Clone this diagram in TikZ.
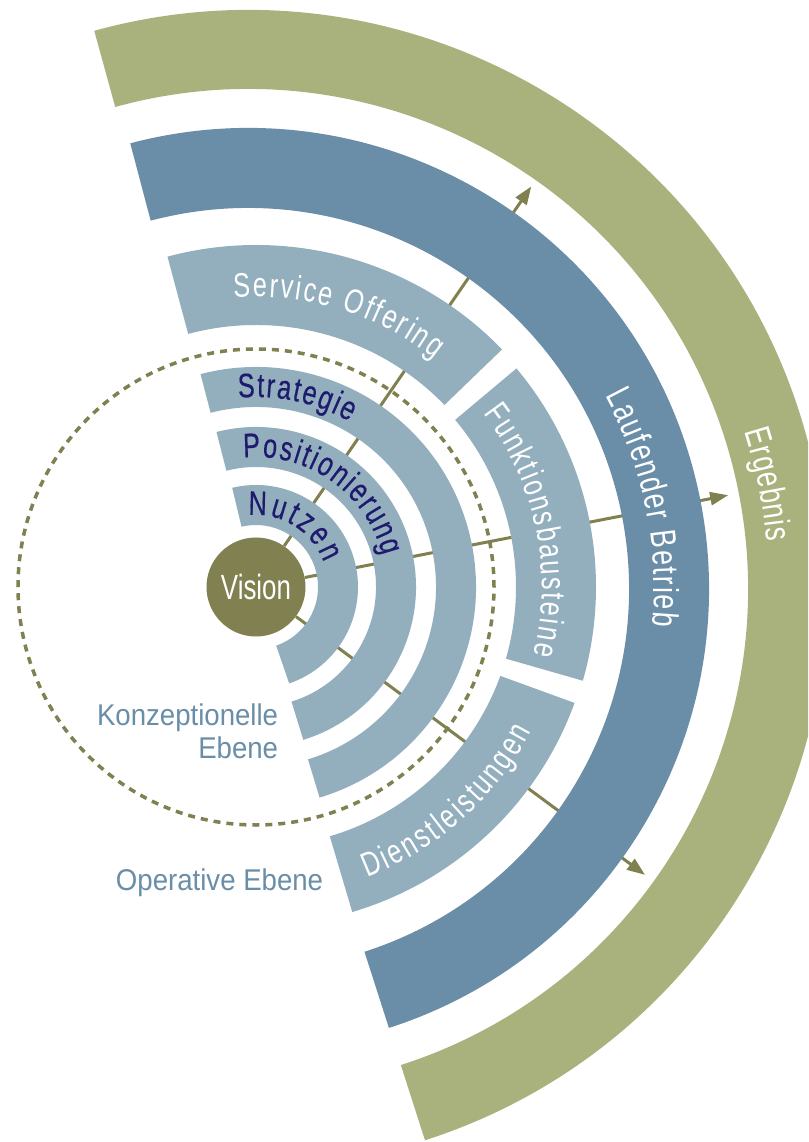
\documentclass[tikz,border=0pt]{standalone}
\usepackage{fontspec}
\setmainfont{Liberation Sans}[FakeStretch=0.92]
\newfontfamily\condfont{Liberation Sans}[FakeStretch=0.74]
\newfontfamily\condbold{Liberation Sans}[FakeStretch=0.74,FakeBold=0.4]
\usetikzlibrary{decorations.text,arrows.meta}
\definecolor{cOlive}{RGB}{128,128,80}
\definecolor{cGreen}{RGB}{169,178,124}
\definecolor{cDark}{RGB}{106,142,168}
\definecolor{cLight}{RGB}{147,175,190}
\definecolor{cNavy}{RGB}{30,26,110}
\newcommand{\annsec}[6]{\fill[#6,shift={#1}] (#2:#4) arc[start angle=#2,end angle=#3,radius=#4] -- (#3:#5) arc[start angle=#3,end angle=#2,radius=#5] -- cycle;}
\newcommand{\navyfont}{\condbold\fontsize{34}{34}\selectfont}
\newcommand{\whitefont}{\condfont\fontsize{34}{34}\selectfont}
\newcommand{\bigwhitefont}{\condfont\fontsize{36}{36}\selectfont}
\newcommand{\ergfont}{\condfont\fontsize{36}{36}\selectfont}
\tikzset{
  conn/.style={draw=cOlive, line width=3pt, -{Triangle[length=18pt,width=13pt]}},
  dotring/.style={draw=cOlive, line width=3.5pt, dash pattern=on 7pt off 6pt},
  arctext/.style={decorate, decoration={text along path, text align=fit to path, text color=#1}},
  lbl/.style={text=cDark, font=\fontsize{30}{30}\selectfont, inner sep=0pt}
}
\begin{document}
\begin{tikzpicture}[x=1pt,y=1pt]
\clip (-256,-555) rectangle (552,587);
\useasboundingbox (-256,-555) rectangle (552,587);
\fill[white] (-256,-555) rectangle (552,587);
% centre node
\node[circle, fill=cOlive, minimum size=99pt, inner sep=0pt, text=white, font=\condfont\fontsize{35}{35}\selectfont] (vision) at (0,0) {Vision};
% connectors
\coordinate (t1) at (55.5:486);
\coordinate (t2) at (11:481);
\coordinate (t3) at (-36.5:484);
\draw[conn] (vision) -- (t1);
\draw[conn] (vision) -- (t2);
\draw[conn] (vision) -- (t3);
% dotted ring
\draw[dotring] (0,0) circle[radius=238];
% inner rings
\annsec{(0,0)}{-71}{103.5}{62}{102}{cLight}
\annsec{(0,0)}{-72.8}{104.3}{120}{160}{cLight}
\annsec{(0,0)}{-73.2}{104.6}{180}{220}{cLight}
% middle ring
\annsec{(0,0)}{44}{105}{262}{342}{cLight}
\annsec{(0,0)}{-16}{40}{260}{340}{cLight}
\annsec{(0,0)}{-73.5}{-20}{260}{339}{cLight}
% outer rings
\annsec{(-8,-2)}{-72.2}{104.8}{381}{461}{cDark}
\annsec{(-8,-2)}{-72.2}{105.4}{500}{579}{cGreen}
% texts on arcs
\path[arctext=cNavy, decoration={text={|\navyfont|Nutzen}}] (96:72) arc[start angle=96,end angle=20,radius=72];
\path[arctext=cNavy, decoration={text={|\navyfont|Positionierung}}] (95.5:130) arc[start angle=95.5,end angle=14,radius=130];
\path[arctext=cNavy, decoration={text={|\navyfont|Strategie}}] (95.3:190) arc[start angle=95.3,end angle=60.5,radius=190];
\path[arctext=white, decoration={text={|\whitefont|Service Offering}}] (94.4:290) arc[start angle=94.4,end angle=52,radius=290];
\path[arctext=white, decoration={text={|\whitefont|Funktionsbausteine}}] (37.4:286) arc[start angle=37.4,end angle=-13.7,radius=286];
\path[arctext=white, decoration={text={|\whitefont|Dienstleistungen}}] (-69:311) arc[start angle=-69,end angle=-27.6,radius=311];
\path[arctext=white, shift={(-8,-2)}, decoration={text={|\bigwhitefont|Laufender Betrieb}}] (28.4:406) arc[start angle=28.4,end angle=-5.2,radius=406];
\path[arctext=white, shift={(-8,-2)}, decoration={text={|\ergfont|Ergebnis}}] (17.6:521) arc[start angle=17.6,end angle=5.2,radius=521];
% labels
\node[lbl, anchor=base east] (konz) at (22.3,-138) {Konzeptionelle};
\node[lbl, anchor=base east] (ebene) at (22.3,-171) {Ebene};
\node[lbl, anchor=base east] (oper) at (67.3,-303) {Operative Ebene};
\end{tikzpicture}
\end{document}
